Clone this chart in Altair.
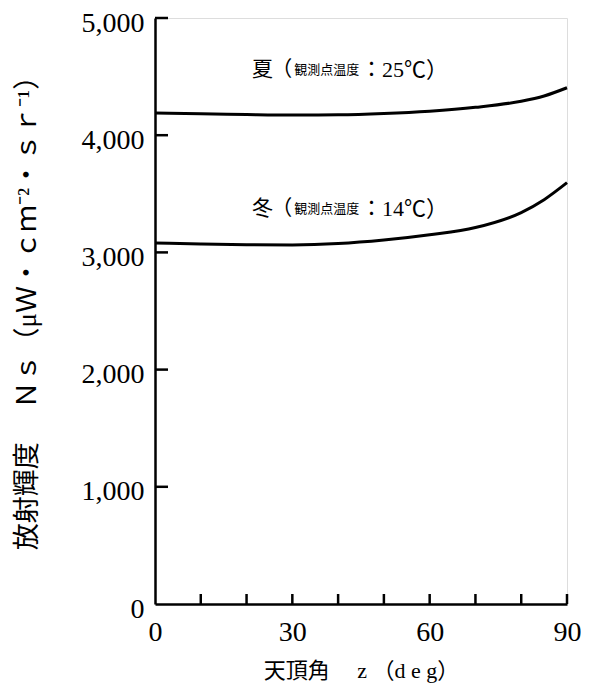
import altair as alt
import pandas as pd

# ---- data ----
zenith = [0, 10, 20, 30, 40, 50, 60, 70, 80, 85, 90]
summer = [4190, 4182, 4176, 4172, 4174, 4185, 4205, 4238, 4290, 4335, 4405]
winter = [3080, 3072, 3066, 3064, 3075, 3105, 3150, 3212, 3340, 3450, 3595]

x_labels = [0, 30, 60, 90]
x_minor = [10, 20, 30, 40, 50, 60, 70, 80, 90]
y_labels = [0, 1000, 2000, 3000, 4000, 5000]
y_minor = [1000, 2000, 3000, 4000, 5000]

ann_text = ["夏", "（", "観測点温度", "：", "25℃）", "冬", "（", "観測点温度", "：", "14℃）"]
ann_x = [21.2, 25.4, 30.4, 45.0, 49.6, 21.2, 25.4, 30.4, 45.0, 49.6]
ann_y = [4556] * 5 + [3370] * 5
ann_fs = [21, 21, 13, 21, 22, 21, 21, 13, 21, 22]

FONT = "Liberation Serif, Noto Sans CJK JP"
W, H = 412, 586

rows = []
for z, s, w in zip(zenith, summer, winter):
    rows.append({"z": z, "ns": s, "season": "夏"})
    rows.append({"z": z, "ns": w, "season": "冬"})
df = pd.DataFrame(rows)

xscale = alt.Scale(domain=[0, 90], nice=False, zero=False)
yscale = alt.Scale(domain=[0, 5000], nice=False)

lines = alt.Chart(df).mark_line(color="black", strokeWidth=3, interpolate="monotone").encode(
    x=alt.X("z:Q", scale=xscale,
            axis=alt.Axis(values=x_labels, format="d", ticks=False, grid=False, domainColor="black",
                          domainWidth=2.5, labelFont=FONT, labelFontSize=28, labelColor="black",
                          labelPadding=14, labelFlush=False,
                          title="天頂角　 z  （d e g）", titleFont=FONT, titleFontSize=22,
                          titleFontWeight="normal", titleColor="black",
                          titleX=W / 2, titleY=66, titleBaseline="middle", titleAlign="center")),
    y=alt.Y("ns:Q", scale=yscale,
            axis=alt.Axis(values=y_labels, format=",.0f", ticks=False, grid=False, domainColor="black",
                          domainWidth=2.5, labelFont=FONT, labelFontSize=28, labelColor="black",
                          labelPadding=11, labelFlush=False, labelBaseline="alphabetic",
                          labelOffset=13,
                          title="放射輝度　 Ｎｓ（μＷ・ｃｍ⁻²・ｓｒ⁻¹）", titleFont=FONT,
                          titleFontSize=27, titleFontWeight="normal", titleColor="black",
                          titleAngle=270, titleX=-128, titleY=H / 2 - 5,
                          titleBaseline="middle", titleAlign="center")),
    detail="season:N",
)

ytick_df = pd.DataFrame({"v": y_minor})
yticks = alt.Chart(ytick_df).mark_rule(color="black", strokeWidth=2.5).encode(
    y=alt.Y("v:Q", scale=yscale), x=alt.value(0), x2=alt.value(13)
)

xtick_df = pd.DataFrame({"v": x_minor})
xticks = alt.Chart(xtick_df).mark_rule(color="black", strokeWidth=2.5).encode(
    x=alt.X("v:Q", scale=xscale), y=alt.value(H), y2=alt.value(H - 10)
)

ann_df = pd.DataFrame({"x": ann_x, "y": ann_y, "t": ann_text, "fs": ann_fs})
ann = alt.Chart(ann_df).mark_text(font=FONT, color="black", align="left", baseline="middle").encode(
    x=alt.X("x:Q", scale=xscale), y=alt.Y("y:Q", scale=yscale), text="t:N",
    size=alt.Size("fs:Q", scale=None, legend=None),
)

chart = alt.layer(lines, yticks, xticks, ann).properties(
    width=W, height=H,
    padding={"left": 147, "top": 10, "right": 14, "bottom": 81},
    autosize=alt.AutoSizeParams(type="none"),
).configure_view(stroke=None).configure(background="white")

chart.save("out.html", embed_options={"renderer": "svg", "actions": False})
